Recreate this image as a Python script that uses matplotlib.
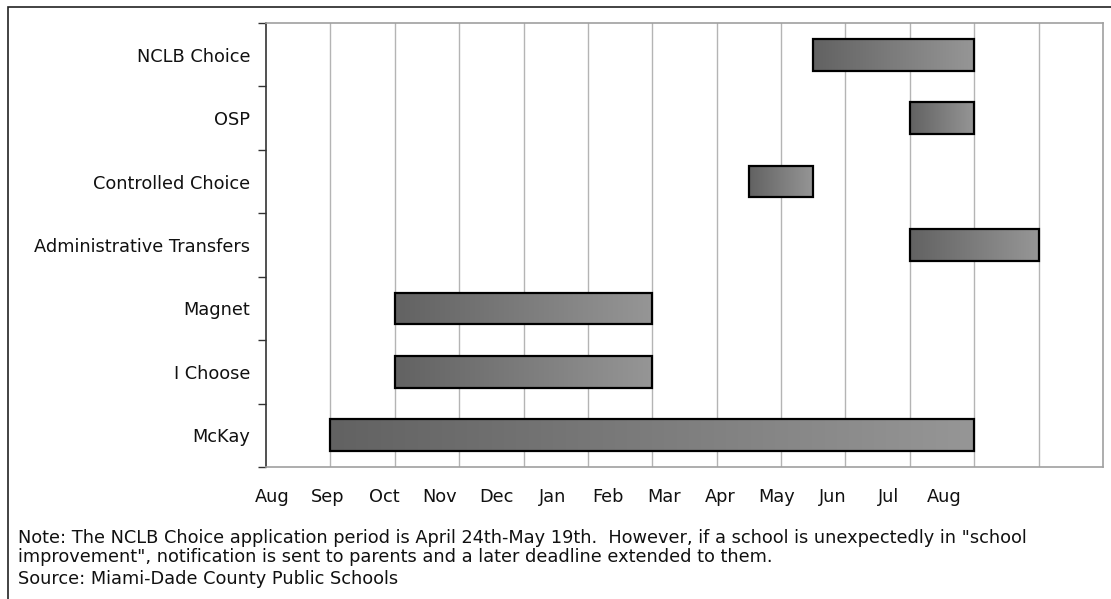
import numpy as np
import matplotlib.pyplot as plt
from matplotlib.colors import LinearSegmentedColormap
from matplotlib.patches import Rectangle

# programmes, top to bottom
programs = ['NCLB Choice', 'OSP', 'Controlled Choice', 'Administrative Transfers',
            'Magnet', 'I Choose', 'McKay']
# application windows in months counted from August (Aug = 0)
start = [8.5, 10.0, 7.5, 10.0, 2.0, 2.0, 1.0]
end = [11.0, 11.0, 8.5, 12.0, 6.0, 6.0, 11.0]
months = ['Aug', 'Sep', 'Oct', 'Nov', 'Dec', 'Jan', 'Feb', 'Mar',
          'Apr', 'May', 'Jun', 'Jul', 'Aug']

note_lines = ['Note: The NCLB Choice application period is April 24th-May 19th.  However, if a school is unexpectedly in "school',
              'improvement", notification is sent to parents and a later deadline extended to them.']
source = 'Source: Miami-Dade County Public Schools'

plt.rcParams['font.family'] = ['Verdana', 'DejaVu Sans']
FS = 12.8
W, H = 1111, 599
fig = plt.figure(figsize=(W / 100, H / 100), dpi=100)
ax = fig.add_axes([266 / W, 1 - 467 / H, (1103 - 266) / W, (467 - 23) / H])

grey = LinearSegmentedColormap.from_list('bar', ['#626262', '#969696'])
grad = np.linspace(0, 1, 256).reshape(1, -1)

n = len(programs)
ypos = np.arange(n)[::-1]
widths = np.array(end) - np.array(start)
bars = ax.barh(ypos, widths, left=start, height=0.5, facecolor='none',
               edgecolor='black', linewidth=1.6, zorder=3)
# gradient fill inside each bar
for b in bars:
    x0, y0 = b.get_x(), b.get_y()
    ax.imshow(grad, cmap=grey, aspect='auto', interpolation='bicubic',
              extent=[x0, x0 + b.get_width(), y0, y0 + b.get_height()], zorder=2)

ax.set_xlim(0, 13)
ax.set_ylim(-0.5, n - 0.5)
ax.set_xticks(np.arange(1, 13))
ax.xaxis.grid(True, color='#b4b4b4', linewidth=1)
ax.set_axisbelow(True)
ax.tick_params(axis='x', length=0, labelbottom=False)

ax.set_yticks(np.arange(-0.5, n, 1.0))
ax.set_yticklabels([])
ax.set_yticks(ypos, programs, minor=True)
ax.tick_params(axis='y', which='major', length=6, width=1, color='#333333', direction='out')
ax.tick_params(axis='y', which='minor', length=0, pad=11.5, labelsize=FS, labelcolor='#111111')

for s in ['top', 'right', 'bottom']:
    ax.spines[s].set_color('#a0a0a0')
    ax.spines[s].set_linewidth(1.2)
ax.spines['left'].set_color('#333333')
ax.spines['left'].set_linewidth(1.2)

# month labels sit below the axis with their own spacing
lab_x = np.linspace(0.09, 10.54, len(months))
for xv, m in zip(lab_x, months):
    ax.text(xv, -0.98, m, ha='center', va='center', fontsize=FS, color='#111111')

for i, line in enumerate(note_lines):
    fig.text(18 / W, 1 - (538 + 19 * i) / H, line, ha='left', va='center',
             fontsize=FS, color='#111111')
fig.text(18 / W, 1 - 579 / H, source, ha='left', va='center', fontsize=FS, color='#111111')

fig.patches.append(Rectangle((8 / W, -0.1), 1.2, 1 - 7 / H + 0.1, transform=fig.transFigure,
                             fill=False, edgecolor='#222222', linewidth=1.2))

fig.savefig('out.png', dpi=100)
